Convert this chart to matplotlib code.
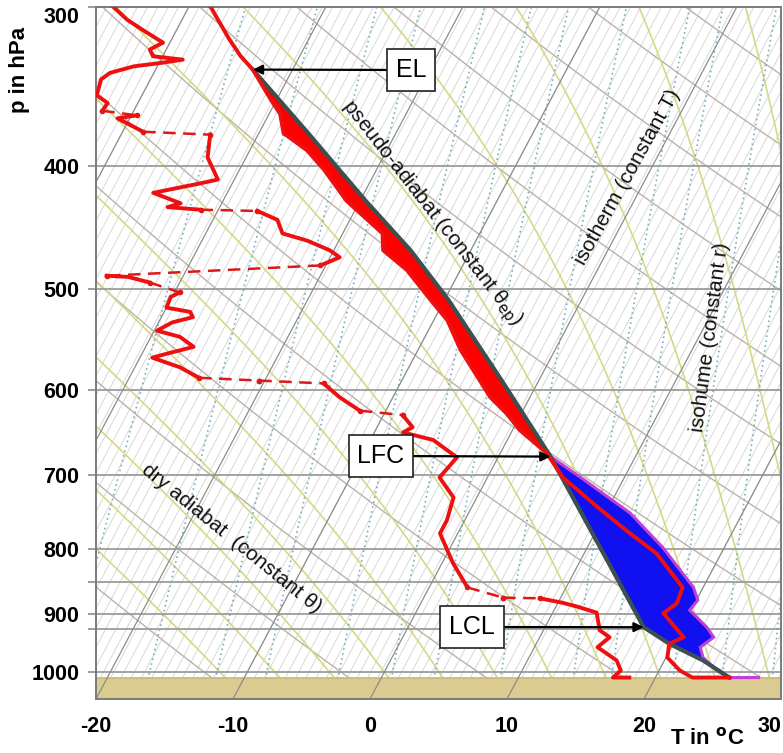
import matplotlib
matplotlib.use("Agg")
import matplotlib.pyplot as plt
import matplotlib.transforms as mtransforms
from matplotlib.ticker import NullLocator
import numpy as np

plt.rcParams['font.family'] = ['Liberation Sans', 'DejaVu Sans']

# --- sounding (pressure in hPa, temperature in degC) ---
temp_p = [300, 318, 328, 336, 355, 364, 377, 389, 403, 426, 452, 466, 483, 510, 529,
          558, 590, 608, 626, 646, 673, 703, 742, 774, 807, 858, 883, 899, 939, 950,
          974, 997, 1010, 1010]
temp_t = [-38.4, -35.8, -34.3, -32.9, -30.4, -29.2, -28.2, -25.8, -23.8, -21.0, -17.1,
          -16.4, -13.9, -11.0, -9.0, -6.9, -4.3, -2.9, -1.1, 0.6, 3.4, 5.5, 9.2, 12.2,
          15.3, 18.5, 18.7, 18.1, 20.5, 19.7, 20.1, 21.5, 22.7, 25.4]

dewp_p = [300, 307, 313, 320, 324, 328, 330, 332, 334, 338, 342, 352, 357, 362, 365,
          367, 376, 378, 394, 410, 413, 416, 420, 428, 431, 433, 434, 441, 452, 458,
          466, 472, 479, 488, 489, 494, 503, 507, 517, 521, 526, 531, 539, 545, 555,
          562, 566, 576, 587, 590, 593, 608, 623, 628, 642, 648, 657, 678, 703, 729,
          760, 778, 821, 858, 874, 875, 882, 888, 898, 927, 939, 956, 979, 997, 1010,
          1010]
dewp_t = [-45.5, -44.0, -42.4, -40.5, -41.2, -40.7, -38.4, -39.9, -41.7, -43.2, -43.6,
          -43.3, -42.2, -42.3, -39.6, -40.9, -38.5, -33.5, -32.8, -31.2, -32.4, -33.7,
          -35.4, -33.0, -33.8, -31.3, -27.1, -25.3, -24.4, -22.3, -20.3, -19.3, -20.4,
          -35.6, -34.0, -32.2, -29.6, -30.1, -30.0, -28.1, -27.7, -29.0, -29.8, -27.9,
          -26.5, -28.2, -29.1, -26.7, -24.9, -20.4, -15.6, -13.9, -11.9, -8.6, -7.4,
          -7.9, -5.4, -3.0, -3.5, -1.7, -1.3, -1.3, 0.8, 2.8, 5.8, 8.5, 10.3, 11.5,
          13.2, 14.1, 15.1, 14.6, 16.5, 17.2, 16.9, 18.1]

parcel_p = [336, 377, 426, 466, 510, 590, 677, 922, 950, 979, 1010]
parcel_t = [-32.9, -26.4, -19.6, -14.4, -9.7, -2.7, 3.8, 17.2, 19.7, 22.8, 25.4]

# right (warm) edge of the blue CIN area, from the LFC down to the ground
cin_p = [677, 703, 750, 798, 858, 878, 894, 922, 939, 956, 974, 997, 1010, 1010]
cin_t = [3.8, 6.8, 11.8, 15.5, 19.3, 20.1, 19.9, 21.8, 22.7, 22.1, 22.7, 24.2, 25.4, 27.6]

level_names = ["EL", "LFC", "LCL"]
level_p = [336, 677, 922]
level_t = [-32.9, 3.8, 17.2]

# --- diagram grid ---
p_ticks = [300, 400, 500, 600, 700, 800, 900, 1000]
p_extra = [850, 925]
t_ticks = [-20, -10, 0, 10, 20, 30]
isotherms = list(range(-100, 41, 10))
hatch_t = list(np.arange(-100, 40, 0.75))
dry_theta = list(range(220, 481, 10))
pseudo_thetaw = list(range(-12, 45, 4))
mixing_ratio = [0.6, 1, 1.5, 2, 3, 4, 5, 7, 10, 12, 16, 20, 25]

P_BOTTOM, P_TOP = 1050, 300
SKEW = 0.53  # horizontal px per vertical px for isotherms


def moist_profile(theta_w, levels):
    rd, cp, lv, eps = 287.04, 1005.7, 2.501e6, 0.622
    t = theta_w + 273.15
    out = [t]
    for pa, pb in zip(levels[:-1], levels[1:]):
        es = 6.112 * np.exp(17.67 * (t - 273.15) / (t - 29.65))
        rs = eps * es / (pa - es)
        dtdp = (rd * t + lv * rs) / (cp + lv * lv * rs * eps / (rd * t * t)) / pa
        t = t + dtdp * (pb - pa)
        out.append(t)
    return np.array(out) - 273.15


fig = plt.figure(figsize=(7.83, 7.53), dpi=100)
ax = fig.add_axes([96 / 783, 1 - 699 / 753, 685 / 783, 692 / 753])
ax.set_yscale('log')
ax.set_xlim(-20, 30)
ax.set_ylim(P_BOTTOM, P_TOP)
ax.autoscale(False)

y0 = ax.transData.transform((0, P_BOTTOM))[1]
skew = (mtransforms.Affine2D().translate(0, -y0)
        .skew(np.arctan(SKEW), 0).translate(0, y0))
trans = ax.transData + skew

pp = np.geomspace(P_BOTTOM, 250, 80)

# fine hatch and 10-degree isotherms
for t in hatch_t:
    ax.plot([t, t], [1010, 250], transform=trans, color='#d2d2d2', lw=0.6, zorder=1)
for t in isotherms:
    ax.plot([t, t], [P_BOTTOM, 250], transform=trans, color='#8c8c8c', lw=0.9, zorder=2.5)

# dry adiabats
for th in dry_theta:
    ax.plot(th * (pp / 1000.0) ** 0.2857 - 273.15, pp, transform=trans,
            color='#bdb2a6', lw=1.0, zorder=1.2)

# pseudo-adiabats
up = np.geomspace(1000, 250, 150)
down = np.geomspace(1000, 1060, 10)
for tw in pseudo_thetaw:
    tu = moist_profile(tw, up)
    td = moist_profile(tw, down)
    ax.plot(np.r_[td[::-1], tu[1:]], np.r_[down[::-1], up[1:]], transform=trans,
            color='#d3da84', lw=1.2, zorder=1.3)

# isohumes
for w in mixing_ratio:
    e = w * pp / (622.0 + w)
    lg = np.log(e / 6.112)
    ax.plot(243.5 * lg / (17.67 - lg), pp, transform=trans, color='#74b0c2',
            lw=1.2, ls=(0, (1, 2)), zorder=1.4)

# pressure grid
for p in p_ticks[1:] + p_extra:
    ax.axhline(p, color='#9c9c9c', lw=1.3, zorder=1.6)

# ground
ax.axhspan(1010, P_BOTTOM, color='#dccb90', zorder=2)
ax.axhline(1010, color='#c9b77a', lw=1.2, zorder=2.1)

# CAPE (red) and CIN (blue) areas
i_lfc = parcel_p.index(677)
i_el = temp_p.index(336)
i_top = temp_p.index(673)
cape_t = parcel_t[:i_lfc + 1] + temp_t[i_el:i_top + 1][::-1]
cape_p = parcel_p[:i_lfc + 1] + temp_p[i_el:i_top + 1][::-1]
ax.fill(cape_t, cape_p, transform=trans, color='#ff0000', lw=0, zorder=3)

cin_poly_t = parcel_t[i_lfc:] + cin_t[::-1]
cin_poly_p = parcel_p[i_lfc:] + cin_p[::-1]
ax.fill(cin_poly_t, cin_poly_p, transform=trans, facecolor='#1010f0',
        edgecolor='#c040d8', lw=2.2, zorder=3)

ax.plot(parcel_t, parcel_p, transform=trans, color='#3d5050', lw=3.0, zorder=4)

# temperature
ax.plot(temp_t, temp_p, transform=trans, color='#ee1010', lw=2.8, zorder=5,
        solid_joinstyle='round')

# dew point: solid where measured, dashed across big jumps
seg_t, seg_p = [dewp_t[0]], [dewp_p[0]]
for k in range(1, len(dewp_t)):
    if abs(dewp_t[k] - dewp_t[k - 1]) > 2.6:
        ax.plot(seg_t, seg_p, transform=trans, color='#ee1010', lw=2.8, zorder=5,
                solid_joinstyle='round')
        ax.plot(dewp_t[k - 1:k + 1], dewp_p[k - 1:k + 1], transform=trans,
                color='#dd1818', lw=1.8, ls=(0, (5, 3)), marker='o', ms=3, zorder=5)
        seg_t, seg_p = [dewp_t[k]], [dewp_p[k]]
    else:
        seg_t.append(dewp_t[k])
        seg_p.append(dewp_p[k])
ax.plot(seg_t, seg_p, transform=trans, color='#ee1010', lw=2.8, zorder=5,
        solid_joinstyle='round')

# level annotations
box_pos = [(411, 70), (381, 456), (472, 627)]
for name, p, t, (bx, by) in zip(level_names, level_p, level_t, box_pos):
    ax.annotate(name, xy=(t, p), xycoords=trans,
                xytext=(bx / 783, 1 - by / 753), textcoords='figure fraction',
                ha='center', va='center', fontsize=18, zorder=7,
                bbox=dict(boxstyle='square,pad=0.35', fc='white', ec='#202020', lw=1.2),
                arrowprops=dict(arrowstyle='-|>', color='black', lw=1.6,
                                shrinkA=0, shrinkB=0, mutation_scale=14))

# line labels
labels = [
    ("pseudo-adiabat (constant θ$_{\\rm ep}$)", 431, 213, -52),
    ("isotherm (constant T)", 628, 177, 61),
    ("isohume (constant r)", 710, 337, 82.5),
    ("dry adiabat  (constant θ)", 232, 538, -39),
]
for txt, x, y, rot in labels:
    fig.text(x / 783, 1 - y / 753, txt, rotation=rot, rotation_mode='anchor',
             ha='center', va='center', fontsize=15, color='#111111', zorder=8)

# axes decoration
ax.yaxis.set_minor_locator(NullLocator())
ax.set_yticks(p_ticks)
ax.set_yticklabels([str(p) for p in p_ticks])
ax.set_yticks(p_extra, minor=True)
ax.tick_params(axis='y', which='both', length=6, color='#8c8c8c', width=1.2,
               labelsize=15.5, pad=6)
for lab in ax.get_yticklabels():
    lab.set_fontweight('bold')
ax.get_yticklabels()[0].set_va('top')

ax.set_xticks(t_ticks)
ax.set_xticklabels([str(t) for t in t_ticks])
ax.tick_params(axis='x', length=0, labelsize=15.5, pad=12)
for lab in ax.get_xticklabels():
    lab.set_fontweight('bold')
ax.get_xticklabels()[-1].set_ha('right')

for s in ax.spines.values():
    s.set_color('#7a7a7a')
    s.set_linewidth(1.4)

fig.text(20 / 783, 1 - 70 / 753, "p in hPa", rotation=90, ha='center', va='center',
         fontsize=16, fontweight='bold')
fig.text(707 / 783, 1 - 738 / 753, "T in $^{\\mathbf{o}}$C", ha='center', va='center',
         fontsize=16, fontweight='bold')

fig.savefig('out.png', dpi=100)
